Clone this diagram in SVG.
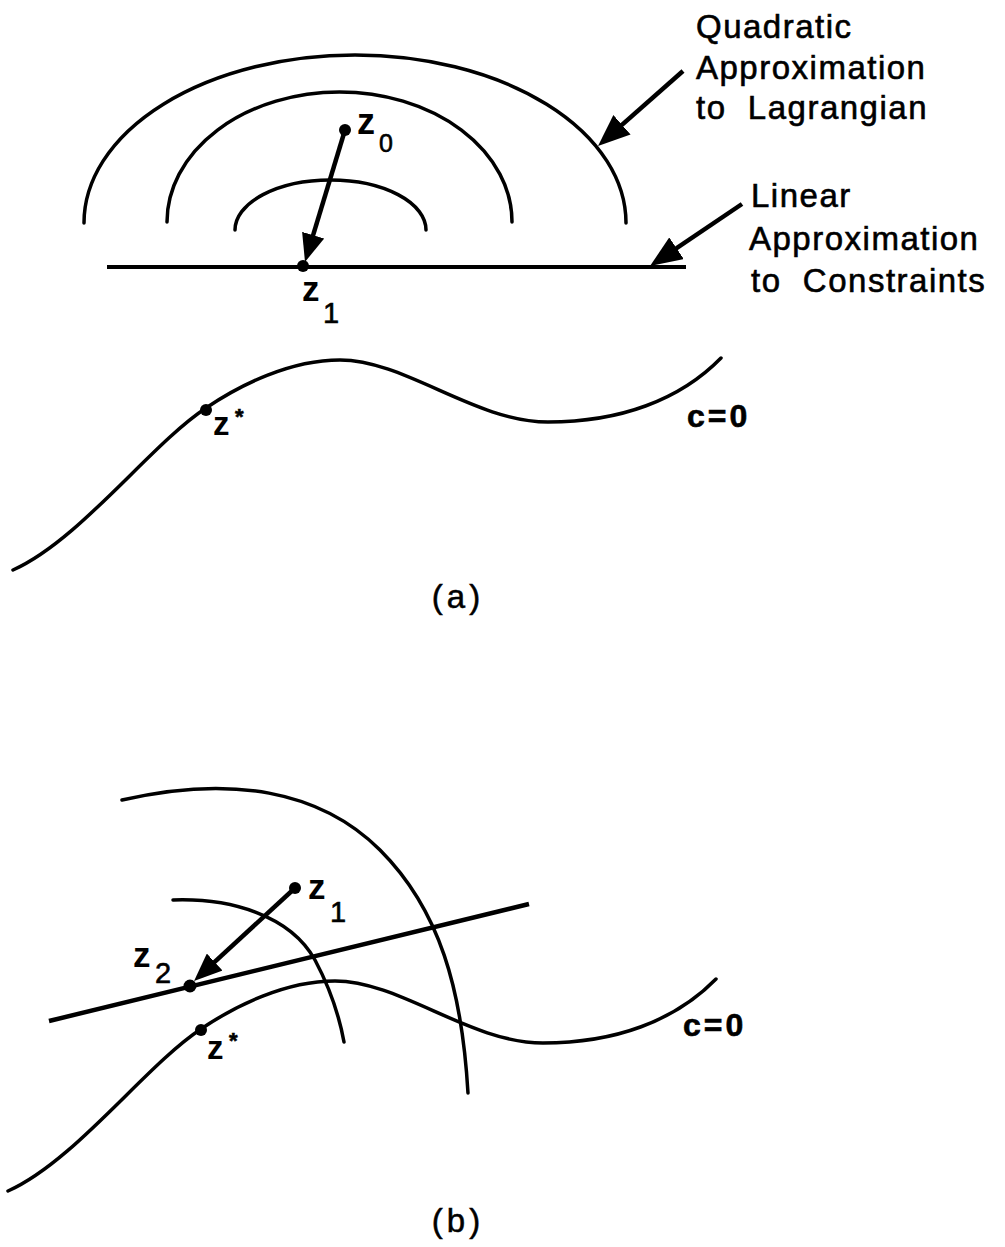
<svg xmlns="http://www.w3.org/2000/svg" width="1005" height="1247" viewBox="0 0 1005 1247">
<style>
.bg{fill:#fff}
.cv{fill:none;stroke:#000;stroke-width:3.5;stroke-linecap:round}
.ln{fill:none;stroke:#000;stroke-width:4;stroke-linecap:butt}
.ar{fill:none;stroke:#000;stroke-width:4.5}
.dot{fill:#000}
.lbl{font-family:"Liberation Sans",Arial,sans-serif;font-size:33px;letter-spacing:1.5px;fill:#000;stroke:#000;stroke-width:0.6}
.z{font-family:"Liberation Sans",Arial,sans-serif;font-weight:bold;font-size:35px;fill:#000}
.sub{font-family:"Liberation Sans",Arial,sans-serif;font-size:29px;fill:#000;stroke:#000;stroke-width:0.6}
.c0{font-family:"Liberation Sans",Arial,sans-serif;font-weight:bold;font-size:32px;fill:#000;stroke:#000;stroke-width:0.6}
.cap{font-family:"Liberation Sans",Arial,sans-serif;font-size:33px;letter-spacing:4px;fill:#000;stroke:#000;stroke-width:0.5}
</style>
<defs>
<marker id="bigHead" viewBox="0 0 32 26" refX="22" refY="13" markerWidth="32" markerHeight="26" markerUnits="userSpaceOnUse" orient="auto">
<path d="M0,0 L32,13 L0,26 z" fill="#000"/>
</marker>
<marker id="smallHead" viewBox="0 0 28 23" refX="18" refY="11.5" markerWidth="28" markerHeight="23" markerUnits="userSpaceOnUse" orient="auto">
<path d="M0,0 L28,11.5 L0,23 z" fill="#000"/>
</marker>
<path id="cCurve" d="M13,570 C80,540 150,445 206,408 C240,385 290,360 340,360 C405,360 475,422 548,422 C620,422 680,400 721,358"/>
</defs>
<rect class="bg" x="0" y="0" width="1005" height="1247"/>

<g id="panel-a">
<g id="quadratic-contours">
<path class="cv" d="M84,223 A271,168 0 0 1 626,223"/>
<path class="cv" d="M167,222 A172.5,130 0 0 1 512,222"/>
<path class="cv" d="M235,230 A95.5,50 0 0 1 426,230"/>
</g>
<g id="linear-constraint-a">
<path class="ln" d="M107,267 L686,267"/>
</g>
<g id="constraint-curve-a">
<use href="#cCurve" class="cv"/>
</g>
<g id="node-z0">
<circle class="dot" cx="345" cy="130" r="6"/>
<text class="z" x="357" y="134" style="font-size:36px">z</text>
<text class="sub" x="379" y="152" style="font-size:25px">0</text>
</g>
<g id="node-z1a">
<circle class="dot" cx="303" cy="266" r="6"/>
<text class="z" x="302" y="301">z</text>
<text class="sub" x="323" y="323">1</text>
</g>
<g id="node-zstar-a">
<circle class="dot" cx="206" cy="410" r="6"/>
<text class="z" x="213" y="435" style="font-size:33px">z</text>
<text class="sub" x="235" y="424" style="font-size:22px;font-weight:bold">*</text>
</g>
<text class="c0" x="687" y="427" letter-spacing="3">c=0</text>
<g id="label-quadratic">
<text class="lbl" xml:space="preserve"><tspan x="696" y="38">Quadratic</tspan><tspan x="696" y="79">Approximation</tspan><tspan x="696" y="119">to  Lagrangian</tspan></text>
</g>
<g id="label-linear">
<text class="lbl" xml:space="preserve"><tspan x="751" y="207">Linear</tspan><tspan x="749" y="250">Approximation</tspan><tspan x="751" y="292">to  Constraints</tspan></text>
</g>
<text class="cap" x="458" y="608" text-anchor="middle">(a)</text>
</g>

<g id="panel-b">
<g id="quadratic-contours-b">
<path class="cv" d="M122,800 C230,775 320,790 380,850 C440,910 462,990 468,1093"/>
<path class="cv" d="M173,900 C230,898 290,915 315,960 C332,992 340,1020 344,1042"/>
</g>
<g id="linear-constraint-b">
<path class="ln" d="M49,1021 L529,904" style="stroke-width:4.5"/>
</g>
<g id="constraint-curve-b">
<use href="#cCurve" class="cv" transform="translate(-5,621)"/>
</g>
<g id="node-z1b">
<circle class="dot" cx="295" cy="888" r="6"/>
<text class="z" x="308" y="899">z</text>
<text class="sub" x="330" y="922">1</text>
</g>
<g id="node-z2">
<circle class="dot" cx="190" cy="986" r="6.5"/>
<text class="z" x="133" y="967">z</text>
<text class="sub" x="155" y="983">2</text>
</g>
<g id="node-zstar-b">
<circle class="dot" cx="201" cy="1030" r="6"/>
<text class="z" x="207" y="1059" style="font-size:33px">z</text>
<text class="sub" x="229" y="1048" style="font-size:22px;font-weight:bold">*</text>
</g>
<text class="c0" x="683" y="1036" letter-spacing="3">c=0</text>
<text class="cap" x="458" y="1232" text-anchor="middle">(b)</text>
</g>

<g id="connectors">
<path class="ar" d="M683,71 L605.5,139.4" marker-end="url(#bigHead)"/>
<path class="ar" d="M742,204 L658.3,260.5" marker-end="url(#bigHead)"/>
<path class="ar" d="M345,130 L307.9,252.4" marker-end="url(#smallHead)"/>
<path class="ar" d="M295,888 L201.4,974.2" marker-end="url(#smallHead)"/>
</g>
</svg>
